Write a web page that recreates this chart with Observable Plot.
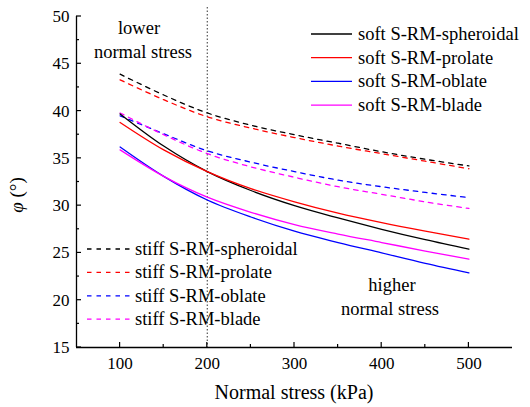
<!DOCTYPE html>
<html><head><meta charset="utf-8">
<script src="https://cdn.jsdelivr.net/npm/d3@7"></script>
<script src="https://cdn.jsdelivr.net/npm/@observablehq/plot@0.6"></script>
<style>body{margin:0;background:#fff}#chart{width:530px;height:407px}</style>
</head><body><div id="chart"></div>
<script>
const stress = [100, 150, 200, 250, 300, 350, 400, 450, 500];
const softSpheroidal = [39.7, 36.3, 33.6, 31.6, 30.0, 28.7, 27.5, 26.4, 25.4];
const softProlate    = [38.8, 35.9, 33.6, 31.8, 30.4, 29.2, 28.2, 27.3, 26.45];
const softOblate     = [36.2, 33.1, 30.6, 28.8, 27.3, 26.1, 25.0, 23.9, 22.9];
const softBlade      = [35.9, 33.1, 30.9, 29.3, 28.0, 27.0, 26.1, 25.2, 24.35];
const stiffSpheroidal = [43.9, 41.7, 39.8, 38.5, 37.5, 36.6, 35.7, 34.9, 34.2];
const stiffProlate    = [43.3, 41.2, 39.4, 38.2, 37.2, 36.3, 35.5, 34.7, 33.9];
const stiffOblate     = [39.5, 37.6, 35.8, 34.6, 33.6, 32.7, 32.0, 31.4, 30.85];
const stiffBlade      = [39.8, 37.5, 35.5, 34.1, 33.0, 32.0, 31.2, 30.4, 29.7];
const xTicks = [100, 200, 300, 400, 500];
const xMinorTicks = [150, 250, 350, 450];
const yTicks = [15, 20, 25, 30, 35, 40, 45, 50];
const yMinorTicks = [17.5, 22.5, 27.5, 32.5, 37.5, 42.5, 47.5];
const splitStress = [200];

const softSeries = [
  {label: "soft S-RM-spheroidal", values: softSpheroidal, color: "#000000"},
  {label: "soft S-RM-prolate", values: softProlate, color: "#ff0000"},
  {label: "soft S-RM-oblate", values: softOblate, color: "#0000ff"},
  {label: "soft S-RM-blade", values: softBlade, color: "#ff00ff"}
];
const stiffSeries = [
  {label: "stiff S-RM-spheroidal", values: stiffSpheroidal, color: "#000000"},
  {label: "stiff S-RM-prolate", values: stiffProlate, color: "#ff0000"},
  {label: "stiff S-RM-oblate", values: stiffOblate, color: "#0000ff"},
  {label: "stiff S-RM-blade", values: stiffBlade, color: "#ff00ff"}
];
const DASH = "4.5,5";
const FONT = "'Liberation Serif','Times New Roman',serif";

const lineMarks = [];
for (const s of stiffSeries) {
  const rows = stress.map((x, i) => ({x, y: s.values[i]}));
  lineMarks.push(Plot.line(rows, {x: "x", y: "y", stroke: s.color, strokeWidth: 1.3, strokeDasharray: DASH, curve: "catmull-rom"}));
}
for (const s of softSeries) {
  const rows = stress.map((x, i) => ({x, y: s.values[i]}));
  lineMarks.push(Plot.line(rows, {x: "x", y: "y", stroke: s.color, strokeWidth: 1.3, curve: "catmull-rom"}));
}

const chart = Plot.plot({
  width: 530, height: 407,
  marginLeft: 76, marginRight: 18, marginTop: 16, marginBottom: 60,
  style: {fontFamily: FONT, fontSize: "17px", color: "#000", background: "#fff", overflow: "visible"},
  x: {domain: [50, 550]},
  y: {domain: [15, 50]},
  marks: [
    Plot.ruleX(splitStress, {stroke: "#555", strokeWidth: 1.2, strokeDasharray: "1.5,2", insetTop: -9}),
    ...lineMarks,
    Plot.axisX({ticks: xTicks, tickSize: 0, tickPadding: 9, tickFormat: d => d, label: null, fontSize: 17}),
    Plot.axisY({ticks: yTicks, tickSize: 0, tickPadding: 7, tickFormat: d => d, label: null, fontSize: 17}),
    Plot.ruleY([15], {stroke: "#000", strokeWidth: 1.3}),
    Plot.ruleX([50], {stroke: "#000", strokeWidth: 1.3})
  ]
});
document.getElementById("chart").appendChild(chart);

const sx = chart.scale("x"), sy = chart.scale("y");
const svg = d3.select(chart);
const tg = svg.append("g").attr("stroke", "#000").attr("stroke-width", 1.2);
const x0 = sx.apply(50), y0 = sy.apply(15);
xTicks.forEach(v => tg.append("line").attr("x1", sx.apply(v)).attr("x2", sx.apply(v)).attr("y1", y0).attr("y2", y0 - 5));
xMinorTicks.forEach(v => tg.append("line").attr("x1", sx.apply(v)).attr("x2", sx.apply(v)).attr("y1", y0).attr("y2", y0 - 3));
yTicks.forEach(v => tg.append("line").attr("y1", sy.apply(v)).attr("y2", sy.apply(v)).attr("x1", x0).attr("x2", x0 + 5));
yMinorTicks.forEach(v => tg.append("line").attr("y1", sy.apply(v)).attr("y2", sy.apply(v)).attr("x1", x0).attr("x2", x0 + 3));

const g = svg.append("g").attr("font-family", FONT).attr("fill", "#000").attr("text-anchor", "start");
softSeries.forEach((s, i) => {
  const y = 34 + i * 23.7;
  g.append("line").attr("x1", 311).attr("x2", 352).attr("y1", y).attr("y2", y)
    .attr("stroke", s.color).attr("stroke-width", 1.3);
  g.append("text").attr("x", 358).attr("y", y).attr("dy", "0.32em").attr("font-size", 18.5).attr("text-anchor", "start").text(s.label);
});
stiffSeries.forEach((s, i) => {
  const y = 249 + i * 23.4;
  g.append("line").attr("x1", 87).attr("x2", 130).attr("y1", y).attr("y2", y)
    .attr("stroke", s.color).attr("stroke-width", 1.3).attr("stroke-dasharray", DASH);
  g.append("text").attr("x", 135).attr("y", y).attr("dy", "0.32em").attr("font-size", 18.5).attr("text-anchor", "start").text(s.label);
});
const notes = [
  {t: "lower", x: 139, y: 28}, {t: "normal stress", x: 143, y: 52},
  {t: "higher", x: 392, y: 285}, {t: "normal stress", x: 390, y: 309}
];
notes.forEach(n => g.append("text").attr("x", n.x).attr("y", n.y).attr("dy", "0.32em")
  .attr("text-anchor", "middle").attr("font-size", 18.5).text(n.t));
g.append("text").attr("x", 294).attr("y", 393).attr("dy", "0.32em").attr("text-anchor", "middle")
  .attr("font-size", 20).text("Normal stress (kPa)");
const yl = g.append("text").attr("transform", "translate(17,195) rotate(-90)").attr("dy", "0.32em")
  .attr("text-anchor", "middle").attr("font-size", 19);
yl.append("tspan").attr("font-style", "italic").text("φ");
yl.append("tspan").text(" (°)");
</script></body></html>
